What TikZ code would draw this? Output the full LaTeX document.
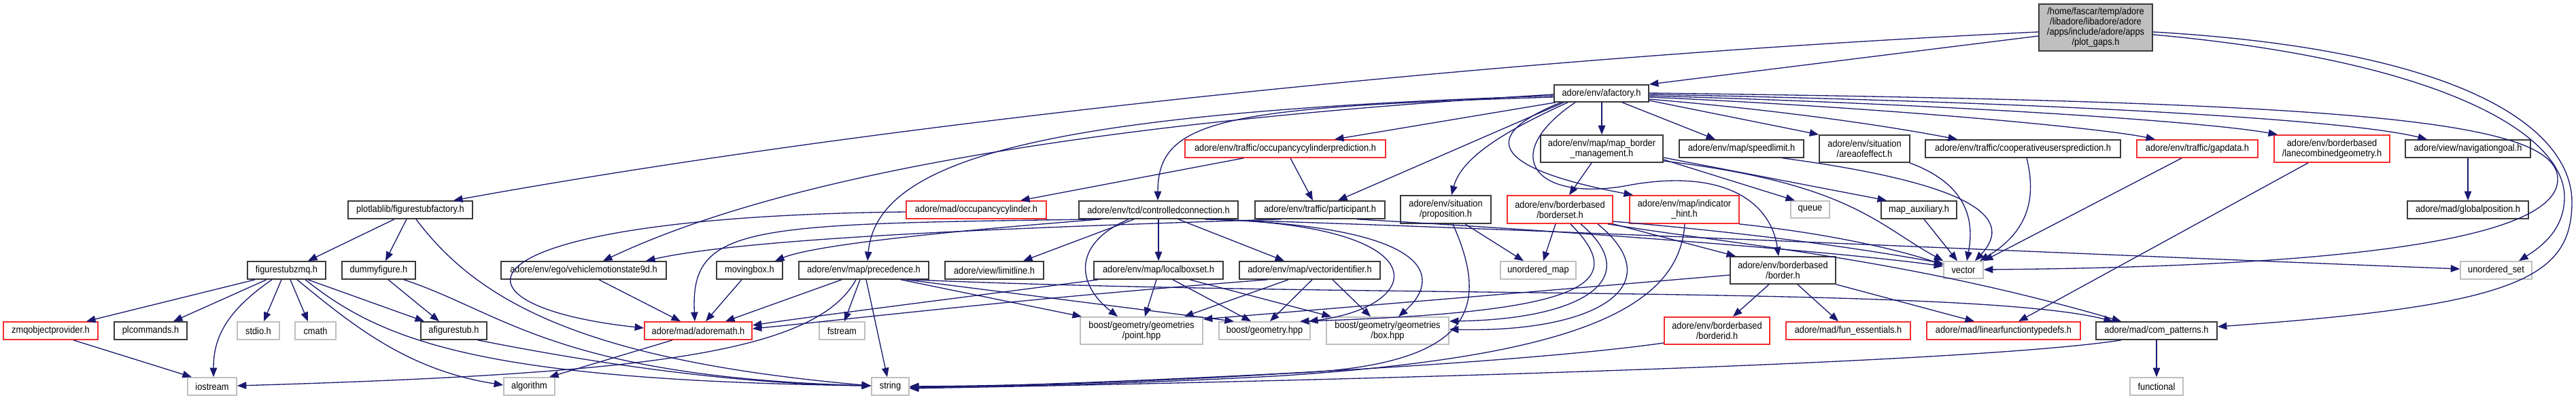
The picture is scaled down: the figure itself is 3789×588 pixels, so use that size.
\documentclass[tikz,border=0pt]{standalone}
\usepackage{fontspec}
\setmainfont{Liberation Sans}[FakeStretch=0.9]
\usetikzlibrary{arrows.meta,calc}
\definecolor{edgec}{RGB}{25,25,112}
\definecolor{boxk}{RGB}{58,58,58}
\definecolor{boxr}{RGB}{245,45,45}
\definecolor{boxg}{RGB}{191,191,191}
\newcommand\bx[7]{\node[#6,minimum width={(#4-#2)*0.2mm},minimum height={(#5-#3)*0.2mm}] (#1) at ({(#2+#4)/2},{(#3+#5)/2}) {#7};}
\begin{document}
\begin{tikzpicture}[x=0.2mm,y=-0.2mm,
  nb/.style={draw=boxk,line width=0.95pt,fill=white,inner sep=0pt,align=center,font=\fontsize{8.1}{8.5}\selectfont},
  nr/.style={nb,draw=boxr},
  ng/.style={nb,draw=boxg},
  nroot/.style={nb,fill=boxg},
  e/.style={draw=edgec,line width=0.75pt,-{Triangle[length=2.7mm,width=2.1mm]}}]
\path[use as bounding box] (0,0) rectangle (3789,588);
% row 0-1
\bx{root}{2999}{6}{3166}{75}{nroot}{/home/fascar/temp/adore\\/libadore/libadore/adore\\/apps/include/adore/apps\\/plot\_gaps.h}
\bx{afactory}{2286}{125}{2425}{150}{nb}{adore/env/afactory.h}
% row 2
\bx{occpred}{1743}{206}{2038}{232}{nr}{adore/env/traffic/occupancycylinderprediction.h}
\bx{mapbm}{2266}{199}{2446}{239}{nb}{adore/env/map/map\_border\\\_management.h}
\bx{speedlimit}{2470}{206}{2653}{232}{nb}{adore/env/map/speedlimit.h}
\bx{aoe}{2676}{199}{2809}{239}{nb}{adore/env/situation\\/areaofeffect.h}
\bx{coop}{2832}{206}{3119}{232}{nb}{adore/env/traffic/cooperativeusersprediction.h}
\bx{gapdata}{3143}{206}{3321}{232}{nr}{adore/env/traffic/gapdata.h}
\bx{lanecomb}{3345}{199}{3515}{239}{nr}{adore/env/borderbased\\/lanecombinedgeometry.h}
\bx{navgoal}{3538}{206}{3722}{232}{nb}{adore/view/navigationgoal.h}
% row 3
\bx{fsfactory}{512}{296}{695}{322}{nb}{plotlablib/figurestubfactory.h}
\bx{occcyl}{1333}{296}{1539}{322}{nr}{adore/mad/occupancycylinder.h}
\bx{ctrlconn}{1587}{296}{1821}{322}{nb}{adore/env/tcd/controlledconnection.h}
\bx{participant}{1846}{296}{2037}{322}{nb}{adore/env/traffic/participant.h}
\bx{proposition}{2060}{288}{2193}{329}{nb}{adore/env/situation\\/proposition.h}
\bx{borderset}{2217}{288}{2372}{329}{nr}{adore/env/borderbased\\/borderset.h}
\bx{indicator}{2397}{288}{2558}{329}{nr}{adore/env/map/indicator\\\_hint.h}
\bx{queue}{2634}{296}{2691}{321}{ng}{queue}
\bx{mapaux}{2767}{296}{2878}{322}{nb}{map\_auxiliary.h}
\bx{globalpos}{3541}{296}{3719}{322}{nb}{adore/mad/globalposition.h}
% row 4
\bx{fszmq}{364}{385}{479}{411}{nb}{figurestubzmq.h}
\bx{dummy}{503}{385}{611}{411}{nb}{dummyfigure.h}
\bx{vms}{737}{385}{980}{411}{nb}{adore/env/ego/vehiclemotionstate9d.h}
\bx{movingbox}{1054}{385}{1151}{411}{nb}{movingbox.h}
\bx{precedence}{1175}{385}{1366}{411}{nb}{adore/env/map/precedence.h}
\bx{limitline}{1390}{385}{1535}{411}{nb}{adore/view/limitline.h}
\bx{localboxset}{1609}{385}{1799}{411}{nb}{adore/env/map/localboxset.h}
\bx{vectorid}{1823}{385}{2030}{411}{nb}{adore/env/map/vectoridentifier.h}
\bx{umap}{2207}{385}{2318}{411}{ng}{unordered\_map}
\bx{border}{2545}{378}{2700}{418}{nb}{adore/env/borderbased\\/border.h}
\bx{vector}{2859}{385}{2917}{410}{ng}{vector}
\bx{uset}{3619}{385}{3724}{411}{ng}{unordered\_set}
% row 5
\bx{zmq}{5}{474}{144}{500}{nr}{zmqobjectprovider.h}
\bx{plcommands}{168}{474}{275}{500}{nb}{plcommands.h}
\bx{stdio}{349}{474}{411}{500}{ng}{stdio.h}
\bx{cmath}{434}{474}{494}{500}{ng}{cmath}
\bx{afigurestub}{619}{474}{716}{500}{nb}{afigurestub.h}
\bx{adoremath}{948}{474}{1106}{500}{nr}{adore/mad/adoremath.h}
\bx{fstream}{1205}{474}{1272}{500}{ng}{fstream}
\bx{point}{1589}{467}{1769}{507}{ng}{boost/geometry/geometries\\/point.hpp}
\bx{geometry}{1793}{474}{1927}{500}{ng}{boost/geometry.hpp}
\bx{box}{1951}{467}{2131}{507}{ng}{boost/geometry/geometries\\/box.hpp}
\bx{borderid}{2448}{467}{2603}{507}{nr}{adore/env/borderbased\\/borderid.h}
\bx{funess}{2627}{474}{2810}{500}{nr}{adore/mad/fun\_essentials.h}
\bx{linfun}{2834}{474}{3060}{500}{nr}{adore/mad/linearfunctiontypedefs.h}
\bx{compat}{3083}{474}{3261}{500}{nb}{adore/mad/com\_patterns.h}
% row 6
\bx{iostream}{276}{556}{348}{582}{ng}{iostream}
\bx{algorithm}{741}{556}{816}{582}{ng}{algorithm}
\bx{string}{1282}{556}{1337}{582}{ng}{string}
\bx{functional}{3133}{556}{3211}{582}{ng}{functional}

% ---- root
\draw[e] (root.west |- 0,53) -- (afactory.north east);
\draw[e] (root.west |- 0,47) .. controls (2200,85) and (1300,180) .. (667,0 |- fsfactory.north);
\draw[e] (root.east |- 0,47) .. controls (3650,75) and (3785,200) .. (3783,300) .. controls (3781,410) and (3700,450) .. (compat.east |- 0,481);
\draw[e] (root.east |- 0,51) .. controls (3600,90) and (3772,200) .. (3772,290) .. controls (3772,340) and (3735,365) .. (3705,0 |- uset.north);
% ---- afactory
\draw[e] (afactory.east |- 0,137) .. controls (3450,150) and (3765,175) .. (3762,265) .. controls (3760,345) and (3500,392) .. (vector.east |- 0,397);
\draw[e] (2288,0 |- afactory.south) -- (1963,0 |- occpred.north);
\draw[e] (afactory.west |- 0,143) .. controls (1800,158) and (1703,175) .. (1703,0 |- ctrlconn.north);
\draw[e] (afactory.west |- 0,139) .. controls (1600,180) and (1150,260) .. (887,0 |- vms.north);
\draw[e] (afactory.west |- 0,141) .. controls (1550,165) and (1290,230) .. (1276,0 |- precedence.north);
\draw[e] (2300,0 |- afactory.south) -- (1968,0 |- participant.north);
\draw[e] (2306,0 |- afactory.south) .. controls (2220,190) and (2150,230) .. (2135,0 |- proposition.north);
\draw[e] (2296,0 |- afactory.south) .. controls (2150,210) and (2230,255) .. (2402,0 |- indicator.north);
\draw[e] (2317,0 |- afactory.south) .. controls (2200,230) and (2260,300) .. (2400,272) .. controls (2540,248) and (2605,300) .. (2616,0 |- border.north);
\draw[e] (2356,0 |- afactory.south) -- (2356,0 |- mapbm.north);
\draw[e] (2386,0 |- afactory.south) -- (2523,0 |- speedlimit.north);
\draw[e] (afactory.east |- 0,148) -- (aoe.north west);
\draw[e] (afactory.east |- 0,146) .. controls (2650,165) and (2800,190) .. (2879,0 |- coop.north);
\draw[e] (afactory.east |- 0,143) .. controls (2800,160) and (3100,190) .. (3170,0 |- gapdata.north);
\draw[e] (afactory.east |- 0,141) .. controls (2900,155) and (3250,180) .. (3350,0 |- lanecomb.north);
\draw[e] (afactory.east |- 0,139) .. controls (3000,150) and (3450,175) .. (3570,0 |- navgoal.north);
% ---- row 2 sources
\draw[e] (1829,0 |- occpred.south) -- (1501,0 |- occcyl.north);
\draw[e] (1898,0 |- occpred.south) -- (1931,0 |- participant.north);
\draw[e] (3630,0 |- navgoal.south) -- (3630,0 |- globalpos.north);
\draw[e] (2341,0 |- mapbm.south) -- (2308,0 |- borderset.north);
\draw[e] (mapbm.east |- 0,235) -- (2640,0 |- queue.north);
\draw[e] (mapbm.east |- 0,232) -- (2775,0 |- mapaux.north);
\draw[e] (mapbm.east |- 0,237) .. controls (2720,270) and (2760,330) .. (vector.north west);
\draw[e] (2622,0 |- speedlimit.south) .. controls (2900,270) and (2965,320) .. (2905,0 |- vector.north);
\draw[e] (2809,0 |- aoe.south) .. controls (2890,270) and (2905,320) .. (2893,0 |- vector.north);
\draw[e] (2981,0 |- coop.south) .. controls (2995,290) and (2985,340) .. (2912,0 |- vector.north);
\draw[e] (3209,0 |- gapdata.south) -- (vector.north east);
\draw[e] (3395,0 |- lanecomb.south) -- (2969,0 |- linfun.north);
% ---- row 3 sources
\draw[e] (occcyl.west |- 0,312) .. controls (650,320) and (640,450) .. (adoremath.west |- 0,483);
\draw[e] (580,0 |- fsfactory.south) -- (453,0 |- fszmq.north);
\draw[e] (598,0 |- fsfactory.south) -- (567,0 |- dummy.north);
\draw[e] (612,0 |- fsfactory.south) .. controls (700,440) and (850,530) .. (string.west |- 0,568);
\draw[e] (1615,0 |- ctrlconn.south) .. controls (1100,330) and (1015,330) .. (1022,0 |- adoremath.north);
\draw[e] (1620,0 |- ctrlconn.south) .. controls (1400,340) and (1200,360) .. (1140,0 |- movingbox.north);
\draw[e] (1668,0 |- ctrlconn.south) -- (1505,0 |- limitline.north);
\draw[e] (1704,0 |- ctrlconn.south) -- (1704,0 |- localboxset.north);
\draw[e] (1733,0 |- ctrlconn.south) -- (1889,0 |- vectorid.north);
\draw[e] (1660,0 |- ctrlconn.south) .. controls (1575,360) and (1585,420) .. (1644,0 |- point.north);
\draw[e] (1772,0 |- ctrlconn.south) .. controls (2200,335) and (3000,372) .. (uset.west |- 0,396);
\draw[e] (1775,0 |- ctrlconn.south) .. controls (2120,330) and (2100,450) .. (1925,0 |- geometry.north);
\draw[e] (1780,0 |- ctrlconn.south) .. controls (2140,335) and (2110,420) .. (2057,0 |- box.north);
\draw[e] (1884,0 |- participant.south) .. controls (1500,335) and (1100,350) .. (950,0 |- vms.north);
\draw[e] (1996,0 |- participant.south) .. controls (2300,340) and (2700,370) .. (vector.west |- 0,392);
\draw[e] (2155,0 |- proposition.south) -- (2241,0 |- umap.north);
\draw[e] (2137,0 |- proposition.south) .. controls (2190,450) and (2175,540) .. (1890,550) .. controls (1700,562) and (1500,568) .. (string.east |- 0,569);
\draw[e] (2288,0 |- borderset.south) -- (2270,0 |- umap.north);
\draw[e] (2310,0 |- borderset.south) .. controls (2400,420) and (2330,460) .. (1912,0 |- geometry.north);
\draw[e] (2325,0 |- borderset.south) .. controls (2420,410) and (2330,470) .. (box.east |- 0,473);
\draw[e] (2350,0 |- borderset.south) .. controls (2460,420) and (2350,490) .. (box.east |- 0,485);
\draw[e] (borderset.east |- 0,326) .. controls (2600,345) and (2760,370) .. (vector.west |- 0,388);
\draw[e] (borderset.south east) -- (2553,0 |- border.north);
\draw[e] (2365,0 |- borderset.south) .. controls (2550,360) and (2800,380) .. (3120,0 |- compat.north);
\draw[e] (2478,0 |- indicator.south) .. controls (2470,460) and (2300,525) .. (1890,553) .. controls (1700,564) and (1500,569) .. (string.east |- 0,570);
\draw[e] (2558,0 |- indicator.south) .. controls (2700,345) and (2800,370) .. (vector.west |- 0,390);
\draw[e] (2830,0 |- mapaux.south) -- (2879,0 |- vector.north);
% ---- row 4 sources
\draw[e] (375,0 |- fszmq.south) -- (127,0 |- zmq.north);
\draw[e] (392,0 |- fszmq.south) -- (255,0 |- plcommands.north);
\draw[e] (400,0 |- fszmq.south) .. controls (330,460) and (314,500) .. (314,0 |- iostream.north);
\draw[e] (414,0 |- fszmq.south) -- (388,0 |- stdio.north);
\draw[e] (427,0 |- fszmq.south) -- (453,0 |- cmath.north);
\draw[e] (437,0 |- fszmq.south) .. controls (520,480) and (600,545) .. (algorithm.west |- 0,567);
\draw[e] (449,0 |- fszmq.south) .. controls (560,500) and (700,560) .. (string.west |- 0,568);
\draw[e] (453,0 |- fszmq.south) -- (624,0 |- afigurestub.north);
\draw[e] (571,0 |- dummy.south) -- (646,0 |- afigurestub.north);
\draw[e] (594,0 |- dummy.south) .. controls (740,460) and (820,555) .. (string.west |- 0,568);
\draw[e] (881,0 |- vms.south) -- (1001,0 |- adoremath.north);
\draw[e] (1091,0 |- movingbox.south) -- (1038,0 |- adoremath.north);
\draw[e] (1238,0 |- precedence.south) -- (1067,0 |- adoremath.north);
\draw[e] (1259,0 |- precedence.south) .. controls (1200,520) and (950,550) .. (iostream.east |- 0,568);
\draw[e] (1265,0 |- precedence.south) -- (1242,0 |- fstream.north);
\draw[e] (1274,0 |- precedence.south) -- (1305,0 |- string.north);
\draw[e] (1325,0 |- precedence.south) -- (1591,0 |- point.north);
\draw[e] (1333,0 |- precedence.south) -- (1815,0 |- geometry.north);
\draw[e] (1342,0 |- precedence.south) .. controls (2000,440) and (2900,420) .. (3108,0 |- compat.north);
\draw[e] (1615,0 |- localboxset.south) .. controls (1400,440) and (1200,465) .. (adoremath.east |- 0,479);
\draw[e] (1701,0 |- localboxset.south) -- (1684,0 |- point.north);
\draw[e] (1725,0 |- localboxset.south) -- (1840,0 |- geometry.north);
\draw[e] (1750,0 |- localboxset.south) -- (1958,0 |- box.north);
\draw[e] (1864,0 |- vectorid.south) .. controls (1500,440) and (1250,470) .. (adoremath.east |- 0,484);
\draw[e] (1895,0 |- vectorid.south) -- (1742,0 |- point.north);
\draw[e] (1930,0 |- vectorid.south) -- (1868,0 |- geometry.north);
\draw[e] (1960,0 |- vectorid.south) -- (2016,0 |- box.north);
\draw[e] (2602,0 |- border.south) -- (2549,0 |- borderid.north);
\draw[e] (2644,0 |- border.south) -- (2704,0 |- funess.north);
\draw[e] (border.south east) -- (2904,0 |- linfun.north);
\draw[e] (border.west |- 0,405) .. controls (2250,430) and (1950,455) .. (point.east |- 0,470);
% ---- row 5 sources
\draw[e] (108,0 |- zmq.south) -- (282,0 |- iostream.north);
\draw[e] (703,0 |- afigurestub.south) .. controls (900,540) and (1100,566) .. (string.west |- 0,568);
\draw[e] (989,0 |- adoremath.south) -- (808,0 |- algorithm.north);
\draw[e] (borderid.west |- 0,505) .. controls (2200,540) and (1600,566) .. (string.east |- 0,571);
\draw[e] (3120,0 |- compat.south) .. controls (2900,535) and (2000,560) .. (string.east |- 0,572);
\draw[e] (3172,0 |- compat.south) -- (3172,0 |- functional.north);
\end{tikzpicture}
\end{document}
